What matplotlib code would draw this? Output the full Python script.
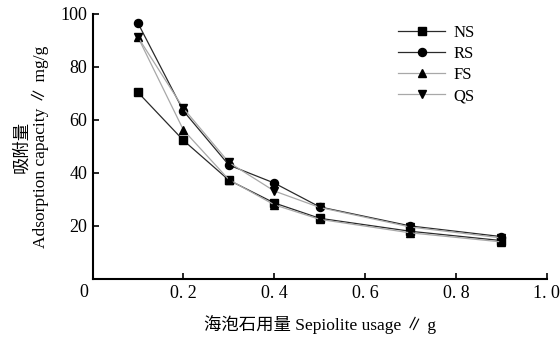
import matplotlib
matplotlib.use('Agg')
import matplotlib.pyplot as plt

plt.rcParams['font.family'] = ['Liberation Serif', 'Noto Sans CJK SC', 'DejaVu Sans']

# sepiolite usage (g)
usage = [0.1, 0.2, 0.3, 0.4, 0.5, 0.7, 0.9]
# adsorption capacity (mg/g)
ns = [70.4, 52.3, 37.3, 28.7, 22.9, 18.0, 14.5]
rs = [96.5, 63.4, 43.0, 36.2, 27.2, 20.0, 16.0]
fs = [91.2, 56.2, 37.5, 28.0, 22.5, 17.4, 14.0]
qs = [91.2, 64.4, 44.0, 33.2, 27.0, 19.6, 15.5]

series = ['NS', 'RS', 'FS', 'QS']
markers = ['s', 'o', '^', 'v']
colors = ['#2a2a2a', '#2a2a2a', '#a8a8a8', '#a8a8a8']

xticks = [0.2, 0.4, 0.6, 0.8, 1.0]
xtick_labels = ['0. 2', '0. 4', '0. 6', '0. 8', '1. 0']
yticks = [20, 40, 60, 80, 100]

fig = plt.figure(figsize=(5.6, 3.38), dpi=100)
ax = fig.add_axes([0.1654, 0.1746, 0.8109, 0.784])

for name, vals, m, c in zip(series, [ns, rs, fs, qs], markers, colors):
    ax.plot(usage, vals, color=c, lw=0.9, marker=m, markersize=5.8,
            markerfacecolor='black', markeredgecolor='black', label=name)

ax.set_xlim(0, 1.0)
ax.set_ylim(0, 100)
ax.set_xticks(xticks)
ax.set_xticklabels(xtick_labels)
ax.set_yticks(yticks)
ax.tick_params(direction='in', length=4, width=1.2, labelsize=13, pad=4)
ax.spines['top'].set_visible(False)
ax.spines['right'].set_visible(False)
ax.spines['left'].set_linewidth(1.5)
ax.spines['bottom'].set_linewidth(1.5)

# origin label
ax.text(-0.01, -0.02, '0', transform=ax.transAxes, ha='right', va='top', fontsize=13)

ax.set_xlabel('海泡石用量 Sepiolite usage ∥ g', fontsize=12.5, labelpad=10)
ax.set_ylabel('吸附量\nAdsorption capacity ∥ mg/g', fontsize=12.5, labelpad=8,
              linespacing=1.1)

ax.legend(loc='upper left', bbox_to_anchor=(0.64, 1.015), frameon=False,
          fontsize=12, handlelength=2.8, handletextpad=0.5, labelspacing=0.3)

fig.savefig('out.png', dpi=100)
